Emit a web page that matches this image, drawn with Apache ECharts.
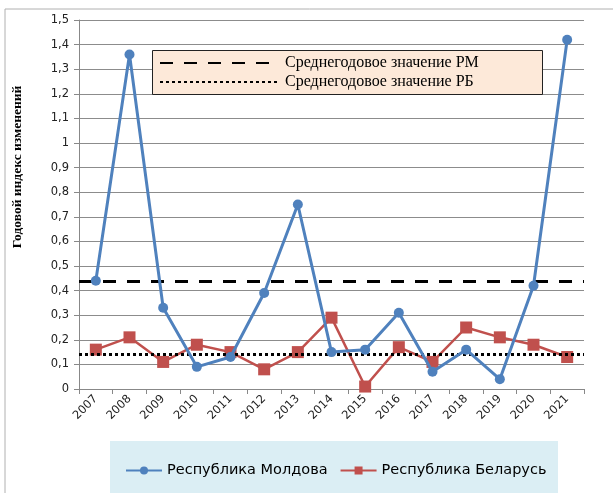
<!DOCTYPE html>
<html>
<head>
<meta charset="utf-8">
<script src="https://cdn.jsdelivr.net/npm/echarts@6/dist/echarts.min.js"></script>
<style>
  html, body { margin: 0; padding: 0; background: #fff; }
  #chart { width: 613px; height: 493px; }
</style>
</head>
<body>
<div id="chart"></div>
<script>
// data
var years = ['2007','2008','2009','2010','2011','2012','2013','2014','2015','2016','2017','2018','2019','2020','2021'];
var moldova = [0.44, 1.36, 0.33, 0.09, 0.13, 0.39, 0.75, 0.15, 0.16, 0.31, 0.07, 0.16, 0.04, 0.42, 1.42];
var belarus = [0.16, 0.21, 0.11, 0.18, 0.15, 0.08, 0.15, 0.29, 0.01, 0.17, 0.11, 0.25, 0.21, 0.18, 0.13];
var meanRM = 0.44;
var meanRB = 0.145;

var nameMD = 'Республика Молдова';
var nameBY = 'Республика Беларусь';
var nameRM = 'Среднегодовое значение РМ';
var nameRB = 'Среднегодовое значение РБ';

var myChart = echarts.init(document.getElementById('chart'));

function fmt(v) {
    return String(Math.round(v * 10) / 10).replace('.', ',');
}

function meanSeries(name, value, dash) {
    return {
        name: name,
        type: 'line',
        data: [],
        symbol: 'none',
        itemStyle: { color: 'rgba(0,0,0,0)', borderWidth: 0 },
        lineStyle: { color: '#000', width: 3, type: dash },
        markLine: {
            silent: true,
            symbol: 'none',
            label: { show: false },
            lineStyle: { color: '#000', width: 3, type: dash },
            data: [{ yAxis: value }]
        }
    };
}

var option = {
    animation: false,
    backgroundColor: '#fff',
    grid: { left: 79, right: 29, top: 20, bottom: 104 },
    graphic: [
        { type: 'rect', z: 0, shape: { x: 5, y: 9, width: 700, height: 600 },
          style: { fill: 'none', stroke: '#b0b0b0', lineWidth: 1 } },
        { type: 'rect', z: 0, shape: { x: 110, y: 441, width: 448, height: 60 },
          style: { fill: '#dbeef4' } },
        { type: 'rect', z: 100, shape: { x: 152.5, y: 50.5, width: 390, height: 44 },
          style: { fill: '#fde9d9', stroke: '#222', lineWidth: 1 } },
        { type: 'text', z: 100, x: 18, y: 167, rotation: Math.PI / 2,
          style: { text: 'Годовой индекс изменений', font: 'bold 13.5px "Liberation Serif"',
                   fill: '#000', align: 'center', verticalAlign: 'middle' } }
    ],
    legend: [
        {
            z: 120,
            data: [nameRM, nameRB],
            orient: 'vertical',
            left: 154,
            top: 50,
            padding: 5,
            itemWidth: 120,
            itemHeight: 14,
            itemGap: 3,
            selectedMode: false,
            textStyle: { fontFamily: 'Liberation Serif', fontSize: 16, color: '#000', lineHeight: 16 }
        },
        {
            data: [nameMD, nameBY],
            orient: 'horizontal',
            left: 120,
            top: 458,
            itemWidth: 36,
            itemHeight: 10,
            itemGap: 12,
            selectedMode: false,
            textStyle: { fontFamily: 'DejaVu Sans', fontSize: 14.5, color: '#000' }
        }
    ],
    xAxis: {
        type: 'category',
        data: years,
        boundaryGap: true,
        axisLine: { lineStyle: { color: '#888', width: 1 } },
        axisTick: { show: true, interval: 0, length: 5, lineStyle: { color: '#888' } },
        axisLabel: { interval: 0, rotate: 45, margin: 8, fontFamily: 'DejaVu Sans', fontSize: 11.5, color: '#222' },
        splitLine: { show: false }
    },
    yAxis: {
        type: 'value',
        min: 0,
        max: 1.5,
        interval: 0.1,
        axisLine: { show: true, lineStyle: { color: '#888', width: 1 } },
        axisTick: { show: true, length: 5, lineStyle: { color: '#888' } },
        axisLabel: { formatter: fmt, margin: 10, fontFamily: 'DejaVu Sans', fontSize: 11.5, color: '#222' },
        splitLine: { show: true, lineStyle: { color: '#8c8c8c', width: 1 } }
    },
    series: [
        {
            name: nameMD,
            type: 'line',
            data: moldova,
            symbol: 'circle',
            symbolSize: 10,
            z: 5,
            lineStyle: { color: '#4f81bd', width: 3 },
            itemStyle: { color: '#4f81bd' }
        },
        {
            name: nameBY,
            type: 'line',
            data: belarus,
            symbol: 'rect',
            symbolSize: 12,
            z: 4,
            lineStyle: { color: '#c0504d', width: 2.5 },
            itemStyle: { color: '#c0504d' }
        },
        meanSeries(nameRM, meanRM, [13, 11]),
        meanSeries(nameRB, meanRB, [3, 3])
    ]
};

myChart.setOption(option);
</script>
</body>
</html>
